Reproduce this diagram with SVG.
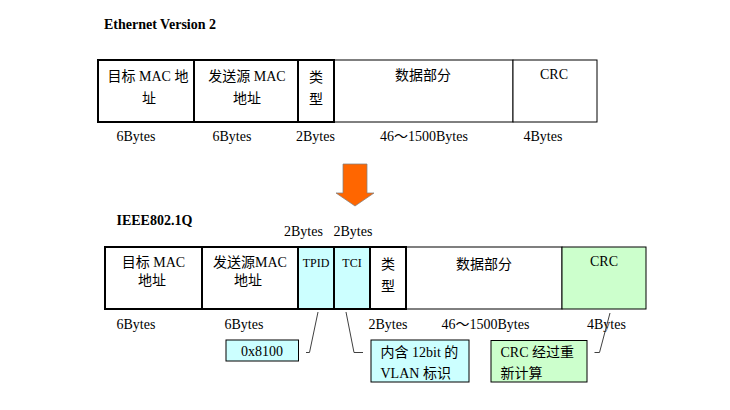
<svg xmlns="http://www.w3.org/2000/svg" width="730" height="410" viewBox="0 0 730 410">
<style>
  text { font-family: "Liberation Serif", "Noto Sans CJK SC", serif; font-size: 14px; fill: #000; }
  .title { font-weight: bold; }
  .c { text-anchor: middle; }
  .sm { font-size: 12px; }
  .thick { fill: #fff; stroke: #000; stroke-width: 2; }
  .thin { fill: #fff; stroke: #000; stroke-width: 1; }
  .cyan { fill: #CCFFFF; }
  .green { fill: #CCFFCC; }
  .lead { fill: none; stroke: #404040; stroke-width: 1; }
  .call { stroke: #000; stroke-width: 1; }
</style>
<rect width="730" height="410" fill="#fff"/>

<text class="title" x="104" y="29">Ethernet Version 2</text>
<text class="title" x="116.5" y="225">IEEE802.1Q</text>

<!-- Ethernet V2 frame -->
<g id="ev2-data"><rect class="thin" x="334" y="60" width="179" height="62"/><text class="c" x="423" y="80">数据部分</text></g>
<g id="ev2-crc"><rect class="thin" x="513" y="60" width="84" height="62"/><text class="c" x="554" y="79">CRC</text></g>
<g id="ev2-dst"><rect class="thick" x="98" y="60" width="96" height="62"/><text class="c" x="148" y="81">目标 MAC 地</text><text class="c" x="149" y="103">址</text></g>
<g id="ev2-src"><rect class="thick" x="194" y="60" width="104" height="62"/><text class="c" x="247" y="81">发送源 MAC</text><text class="c" x="247" y="103">地址</text></g>
<g id="ev2-type"><rect class="thick" x="298" y="60" width="36" height="62"/><text class="c" x="316" y="82">类</text><text class="c" x="316" y="104">型</text></g>

<g id="ev2-bytes">
  <text x="116.5" y="141">6Bytes</text>
  <text x="212.5" y="141">6Bytes</text>
  <text x="296" y="141">2Bytes</text>
  <text x="380" y="141">46～1500Bytes</text>
  <text x="523.5" y="141">4Bytes</text>
</g>

<!-- 802.1Q frame -->
<g id="q-tagbytes">
  <text x="284" y="236">2Bytes</text>
  <text x="333.5" y="236">2Bytes</text>
</g>
<g id="q-data"><rect class="thin" x="406" y="247" width="156" height="62"/><text class="c" x="484" y="269">数据部分</text></g>
<g id="q-crc"><rect class="thin green" x="562" y="247" width="84" height="62"/><text class="c" x="604" y="266">CRC</text></g>
<g id="q-dst"><rect class="thick" x="105" y="247" width="97" height="62"/><text class="c" x="153.5" y="267">目标 MAC</text><text class="c" x="152" y="285">地址</text></g>
<g id="q-src"><rect class="thick" x="202" y="247" width="96" height="62"/><text class="c" x="250" y="267">发送源MAC</text><text class="c" x="248" y="285">地址</text></g>
<g id="q-tpid"><rect class="thick cyan" x="298" y="247" width="36" height="62"/><text class="c sm" x="316" y="267">TPID</text></g>
<g id="q-tci"><rect class="thick cyan" x="334" y="247" width="36" height="62"/><text class="c sm" x="352" y="267">TCI</text></g>
<g id="q-type"><rect class="thick" x="370" y="247" width="36" height="62"/><text class="c" x="388" y="269">类</text><text class="c" x="388" y="291">型</text></g>

<g id="q-bytes">
  <text x="116.5" y="328.5">6Bytes</text>
  <text x="224.5" y="328.5">6Bytes</text>
  <text x="368.5" y="328.5">2Bytes</text>
  <text x="441.5" y="328.5">46～1500Bytes</text>
  <text x="587" y="328.5">4Bytes</text>
</g>

<!-- callouts -->
<g id="call-tpid"><rect class="call cyan" x="226" y="340" width="72.5" height="21"/><text class="c" x="262" y="355.7">0x8100</text></g>
<g id="call-tci"><rect class="call cyan" x="371" y="340" width="98" height="42"/><text x="380.5" y="356.5">内含 12bit 的</text><text x="380.5" y="377.5">VLAN 标识</text></g>
<g id="call-crc"><rect class="call green" x="491" y="340.5" width="96" height="41.5"/><text x="500.5" y="356.5">CRC 经过重</text><text x="500.5" y="377.5">新计算</text></g>

<g id="connectors">
  <polygon points="343,164 367,164 367,193 374,193 355,206 336,193 343,193" fill="#FF6600" stroke="#808080" stroke-width="0.75"/>
  <polyline class="lead" points="318,312 309.5,352.5 306,352.5"/>
  <polyline class="lead" points="346,312 354,352.5 363,352.5"/>
  <polyline class="lead" points="610,313 599.5,352.5 594.5,352.5"/>
</g>
</svg>
